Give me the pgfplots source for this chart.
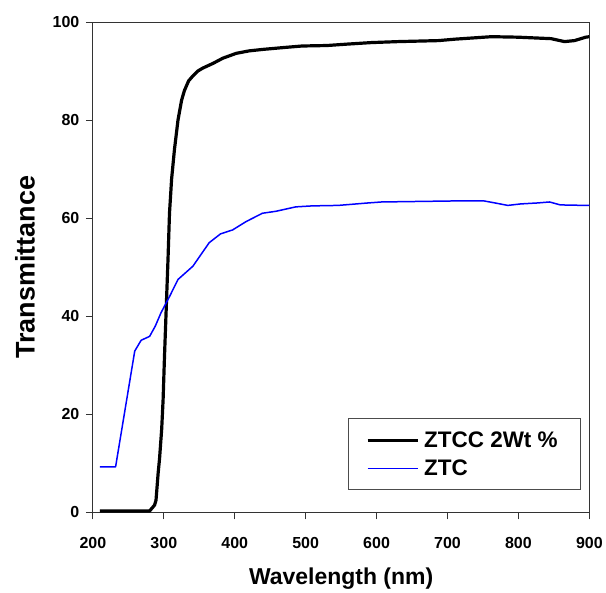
\documentclass[border=0pt]{standalone}
\usepackage{pgfplots}
\pgfplotsset{compat=1.18}
\usepackage{fontspec}
\setmainfont{Liberation Sans}
\begin{document}
\begin{tikzpicture}
\begin{axis}[
  at={(0pt,0pt)}, anchor=south west,
  scale only axis, width=497pt, height=491pt,
  xmin=200, xmax=900, ymin=0, ymax=100,
  xtick={200,300,...,900}, ytick={0,20,...,100},
  axis line style={line width=0.9pt, draw=black!80},
  tick style={line width=0.9pt, draw=black!80},
  tick align=outside, major tick length=7pt,
  xtick pos=bottom, ytick pos=left,
  /pgf/number format/assume math mode=true,
  ticklabel style={font=\fontsize{16}{18}\selectfont\bfseries},
  xticklabel style={yshift=-14pt},
  yticklabel style={xshift=-3pt},
  xlabel={Wavelength (nm)}, ylabel={Transmittance},
  every axis x label/.style={at={([yshift=-66pt]axis description cs:0.5,0)}, anchor=center,
    font=\fontsize{23}{26}\selectfont\bfseries},
  every axis y label/.style={at={([xshift=-68pt]axis description cs:0,0.5)}, anchor=center, rotate=90,
    font=\fontsize{27}{29}\selectfont\bfseries},
  legend style={at={(0.513,0.045)}, anchor=south west, draw=black!70, line width=0.9pt,
    font=\fontsize{22.5}{24}\selectfont\bfseries, inner xsep=18pt, inner ysep=11pt,
    row sep=7pt, nodes={inner xsep=5pt}},
  legend cell align=left,
  legend image code/.code={\draw[#1] (0pt,0pt) -- (50pt,0pt);},
]
\addplot[black, line width=3.2pt, line join=round] coordinates {
(210,0.3) (280,0.3) (287,1.5) (289,2.5) (292,8) (294,11) (297,17) (299,23)
(301,32) (303.5,42) (306,52) (308,61) (311,68) (315,74) (320,80) (325,84)
(329,86) (335,88) (341,89) (348,90) (355,90.6) (370,91.6) (383,92.6) (402,93.6)
(420,94.1) (439,94.4) (470,94.8) (495,95.1) (530,95.2) (560,95.5) (593,95.8)
(631,96) (687,96.2) (711,96.5) (762,97) (799,96.9) (846,96.6) (865,96)
(879,96.2) (895,96.9) (900,97)
};
\addlegendentry{ZTCC 2Wt \%}
\addplot[blue, line width=1.5pt, line join=round] coordinates {
(210,9.3) (232,9.3) (259,32.9) (268,35.1) (280,35.9) (288,38) (296,40.7)
(308,44) (320,47.5) (341,50.2) (352,52.5) (364,55) (380,56.8) (397,57.6)
(416,59.3) (439,61) (458,61.4) (486,62.3) (509,62.5) (546,62.6) (588,63.1)
(607,63.3) (705,63.5) (752,63.5) (767,63.1) (785,62.6) (803,62.9) (827,63.1)
(844,63.3) (859,62.7) (894,62.6) (900,62.6)
};
\addlegendentry{ZTC}
\end{axis}
\path[use as bounding box] (-93pt,-77pt) rectangle (513pt,513pt);
\end{tikzpicture}
\end{document}
